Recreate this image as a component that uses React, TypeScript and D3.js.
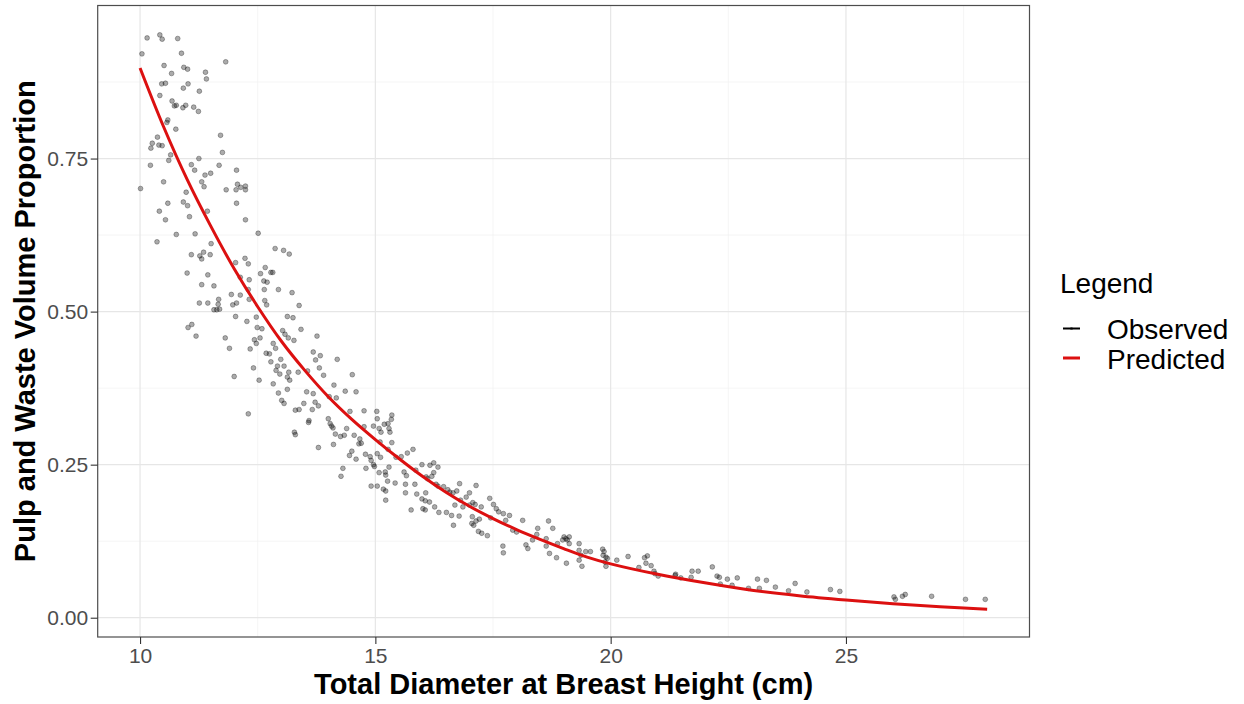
import React, { useEffect, useRef } from 'react';
import * as d3 from 'd3';

// Axis ticks (major + minor grid)
const xTicks = [10, 15, 20, 25];
const xMinorTicks = [12.5, 17.5, 22.5, 27.5];
const yTicks = [0, 0.25, 0.5, 0.75];
const yMinorTicks = [0.125, 0.375, 0.625, 0.875];

// Predicted curve
const predictedDbh = [10, 10.5, 11, 11.5, 12, 12.5, 13, 13.5, 14, 14.5, 15, 15.5, 16, 16.5, 17, 17.5, 18, 18.5, 19, 19.5, 20, 21, 22, 23, 24, 25, 26, 27, 28];
const predictedProp = [0.898, 0.802, 0.716, 0.64, 0.57, 0.508, 0.452, 0.404, 0.361, 0.324, 0.291, 0.26, 0.231, 0.205, 0.182, 0.162, 0.144, 0.128, 0.113, 0.099, 0.088, 0.071, 0.057, 0.045, 0.036, 0.029, 0.023, 0.018, 0.014];

// Observed points [dbh, proportion]
const observed: [number, number][] = [
  [10.15, 0.947], [10.42, 0.952], [10.47, 0.945], [10.8, 0.946], [10.04, 0.921], [10.88, 0.922], [11.82, 0.908], [10.51, 0.902],
  [10.93, 0.899], [11.01, 0.896], [10.67, 0.889], [11.39, 0.891], [11.41, 0.88], [10.46, 0.872], [10.54, 0.873], [11.02, 0.872],
  [10.92, 0.865], [11.26, 0.86], [10.42, 0.853], [10.68, 0.844], [10.73, 0.836], [10.77, 0.837], [10.91, 0.833], [10.97, 0.837],
  [11.14, 0.834], [11.24, 0.827], [10.59, 0.813], [10.57, 0.809], [10.76, 0.798], [11.71, 0.788], [10.37, 0.785], [10.26, 0.775],
  [10.4, 0.772], [10.47, 0.771], [10.23, 0.767], [11.75, 0.76], [10.65, 0.756], [10.61, 0.747], [11.25, 0.75], [10.22, 0.739],
  [11.09, 0.74], [11.16, 0.731], [11.68, 0.739], [12.05, 0.731], [11.38, 0.723], [11.5, 0.726], [10.01, 0.701], [10.5, 0.712],
  [11.31, 0.712], [11.36, 0.704], [12.07, 0.708], [12.24, 0.705], [12.14, 0.703], [12.04, 0.699], [12.24, 0.699], [11.83, 0.699],
  [10.98, 0.695], [10.59, 0.677], [10.92, 0.679], [11.01, 0.673], [12.05, 0.677], [10.41, 0.664], [11.43, 0.664], [11.05, 0.655],
  [10.54, 0.65], [12.24, 0.65],
  [10.77, 0.626], [11.17, 0.627], [12.51, 0.628], [10.36, 0.614], [11.51, 0.611], [12.87, 0.603], [13.05, 0.6], [13.17, 0.594],
  [11.09, 0.593], [11.27, 0.591], [11.35, 0.597], [11.31, 0.586], [11.49, 0.593], [12.03, 0.58], [12.23, 0.587], [12.3, 0.578],
  [12.66, 0.572], [12.56, 0.562], [12.78, 0.564], [12.82, 0.564], [11.0, 0.563], [11.44, 0.56], [12.13, 0.556], [12.32, 0.552],
  [12.63, 0.55], [12.7, 0.548], [11.31, 0.544], [11.57, 0.542], [12.3, 0.536], [12.64, 0.536], [12.94, 0.536], [13.23, 0.531],
  [11.94, 0.528], [12.13, 0.527], [11.26, 0.514], [11.44, 0.514], [11.67, 0.52], [11.66, 0.512], [12.32, 0.52], [12.65, 0.518],
  [12.69, 0.511], [12.05, 0.514], [11.97, 0.511], [11.57, 0.503], [11.63, 0.503], [11.69, 0.504], [13.38, 0.51], [12.03, 0.492],
  [12.27, 0.484], [12.47, 0.491], [13.13, 0.492], [13.25, 0.49], [12.49, 0.474], [12.59, 0.472], [11.02, 0.474], [11.1, 0.479],
  [11.19, 0.46], [11.81, 0.457], [11.9, 0.44], [12.43, 0.454], [12.55, 0.457], [12.47, 0.448], [13.03, 0.469], [13.08, 0.463],
  [13.15, 0.457], [13.27, 0.453], [13.42, 0.471], [12.34, 0.439], [12.83, 0.448], [12.88, 0.44], [12.68, 0.432], [12.75, 0.431],
  [12.99, 0.422], [12.78, 0.418], [12.41, 0.408], [12.0, 0.394], [12.53, 0.388], [12.92, 0.411], [13.06, 0.411], [12.89, 0.404],
  [12.97, 0.398], [13.16, 0.401], [13.13, 0.393], [13.18, 0.388], [13.36, 0.401], [13.56, 0.403], [12.83, 0.382], [12.94, 0.367],
  [13.13, 0.373], [13.01, 0.355], [13.06, 0.35], [13.48, 0.35], [13.3, 0.339], [13.38, 0.34], [13.54, 0.369], [13.68, 0.366],
  [13.66, 0.34], [12.3, 0.333], [13.59, 0.322], [13.68, 0.434], [13.73, 0.421], [13.76, 0.46],
  [13.83, 0.428], [14.19, 0.422], [13.81, 0.408], [14.51, 0.397], [13.9, 0.396],
  [13.72, 0.352], [13.79, 0.346], [14.12, 0.38], [14.17, 0.359], [14.36, 0.37], [14.59, 0.369], [14.02, 0.361], [13.58, 0.319],
  [13.79, 0.278], [14.0, 0.325], [14.04, 0.317], [14.07, 0.313], [14.1, 0.31], [14.46, 0.337], [14.76, 0.338], [15.03, 0.337],
  [15.04, 0.325], [15.35, 0.331], [15.34, 0.324], [15.27, 0.317], [15.19, 0.316], [15.29, 0.309], [15.31, 0.303], [14.15, 0.3],
  [14.26, 0.296], [14.34, 0.298], [14.39, 0.309], [14.55, 0.298], [14.67, 0.292], [14.7, 0.285], [14.65, 0.284], [14.76, 0.312],
  [14.96, 0.313], [15.08, 0.309], [15.12, 0.303], [15.35, 0.286], [15.1, 0.287], [14.11, 0.283], [14.5, 0.272], [14.45, 0.265],
  [14.59, 0.259], [14.79, 0.267], [14.89, 0.263], [14.91, 0.257], [14.96, 0.25], [15.04, 0.268], [15.11, 0.262], [15.27, 0.275],
  [15.44, 0.262], [15.55, 0.263], [15.68, 0.269], [15.8, 0.275], [15.29, 0.246], [15.08, 0.237], [14.31, 0.244], [14.27, 0.231],
  [14.8, 0.244], [14.98, 0.247], [15.21, 0.238], [15.22, 0.233], [15.26, 0.223], [15.42, 0.22], [14.91, 0.215], [15.04, 0.215],
  [15.17, 0.21], [15.22, 0.207], [15.22, 0.192], [15.61, 0.238], [15.66, 0.232], [15.86, 0.241], [15.99, 0.25], [16.16, 0.249],
  [16.24, 0.253], [16.33, 0.246], [16.24, 0.237], [16.2, 0.231], [16.08, 0.23], [16.11, 0.227], [15.64, 0.218], [15.84, 0.218],
  [15.64, 0.204], [15.88, 0.202], [16.07, 0.204], [15.99, 0.194], [16.06, 0.191], [16.15, 0.189], [15.76, 0.176], [16.01, 0.178],
  [16.06, 0.176], [16.26, 0.181], [16.35, 0.172], [16.51, 0.172], [16.29, 0.218], [16.33, 0.215], [16.45, 0.214], [16.54, 0.209],
  [16.58, 0.205], [16.65, 0.204], [16.79, 0.219], [16.73, 0.207], [16.93, 0.197], [17.0, 0.204], [17.14, 0.216], [16.81, 0.192],
  [16.69, 0.184], [16.86, 0.181], [17.0, 0.184], [17.07, 0.188], [17.12, 0.185], [17.25, 0.181], [17.43, 0.195], [17.51, 0.185],
  [17.57, 0.178], [17.62, 0.173], [17.72, 0.17], [17.85, 0.167], [16.62, 0.167], [16.78, 0.166], [17.06, 0.165], [17.21, 0.161],
  [17.45, 0.163],
  [16.66, 0.151], [17.05, 0.154], [17.09, 0.151], [17.14, 0.158], [17.19, 0.141], [17.26, 0.138], [17.38, 0.134], [13.28, 0.303],
  [13.3, 0.299],
  [18.13, 0.159], [18.45, 0.146], [18.68, 0.158], [18.77, 0.146], [18.43, 0.136], [18.34, 0.127], [18.2, 0.119], [18.24, 0.113],
  [18.63, 0.129], [18.87, 0.121], [18.98, 0.127], [19.01, 0.132], [19.05, 0.129], [19.12, 0.132], [19.08, 0.127], [19.12, 0.121],
  [18.7, 0.105], [18.85, 0.098], [19.06, 0.089], [19.33, 0.121], [19.33, 0.11], [19.37, 0.102], [19.33, 0.094], [19.39, 0.084],
  [19.47, 0.108], [17.71, 0.117], [17.72, 0.106], [17.77, 0.159], [17.92, 0.143], [18.0, 0.14],
  [19.83, 0.112], [19.86, 0.108], [19.84, 0.102], [19.9, 0.099], [19.93, 0.097], [19.88, 0.091], [19.9, 0.084], [20.13, 0.094],
  [20.37, 0.1], [19.57, 0.108], [20.6, 0.082], [20.72, 0.098], [20.78, 0.101], [20.75, 0.089], [20.86, 0.085], [20.92, 0.076],
  [20.94, 0.072], [21.01, 0.068], [21.38, 0.071], [21.37, 0.069], [21.49, 0.065], [21.71, 0.066], [21.73, 0.076], [21.86, 0.076],
  [18.63, 0.117],
  [22.16, 0.083], [22.26, 0.068], [22.31, 0.066], [22.33, 0.055], [22.48, 0.063], [22.58, 0.053], [22.69, 0.065], [22.93, 0.048],
  [23.12, 0.063], [23.16, 0.048], [23.31, 0.061], [23.5, 0.05], [23.78, 0.044], [23.92, 0.056], [24.17, 0.042], [24.67, 0.046],
  [24.87, 0.043], [26.02, 0.034], [26.05, 0.03], [26.2, 0.035], [26.26, 0.038], [26.82, 0.035], [27.54, 0.03], [27.96, 0.03],
];

const legendTitle = 'Legend';
const legendLabels = ['Observed', 'Predicted'];
const legendColors = ['#000000', '#dc1010'];

const FONT = '"Liberation Sans", Arial, Helvetica, sans-serif';

export default function App() {
  const svgRef = useRef<SVGSVGElement>(null);

  useEffect(() => {
    if (!svgRef.current) return;
    const svg = d3.select(svgRef.current);
    svg.selectAll('*').remove();

    const width = 1244;
    const height = 704;
    const margin = { top: 5.5, right: 214.5, bottom: 67, left: 97.7 };

    const x = d3.scaleLinear().domain([9.1, 28.9]).range([margin.left, width - margin.right]);
    const y = d3.scaleLinear().domain([-0.0315, 1.0]).range([height - margin.bottom, margin.top]);

    svg.append('rect').attr('width', width).attr('height', height).attr('fill', '#fff');

    // grid
    const grid = svg.append('g');
    grid.selectAll('.xminor').data(xMinorTicks).enter().append('line')
      .attr('x1', d => x(d)).attr('x2', d => x(d))
      .attr('y1', margin.top).attr('y2', height - margin.bottom)
      .attr('stroke', '#f0f0f0').attr('stroke-width', 0.7);
    grid.selectAll('.yminor').data(yMinorTicks).enter().append('line')
      .attr('x1', margin.left).attr('x2', width - margin.right)
      .attr('y1', d => y(d)).attr('y2', d => y(d))
      .attr('stroke', '#f0f0f0').attr('stroke-width', 0.7);
    grid.selectAll('.xmajor').data(xTicks).enter().append('line')
      .attr('x1', d => x(d)).attr('x2', d => x(d))
      .attr('y1', margin.top).attr('y2', height - margin.bottom)
      .attr('stroke', '#e6e6e6').attr('stroke-width', 1.2);
    grid.selectAll('.ymajor').data(yTicks).enter().append('line')
      .attr('x1', margin.left).attr('x2', width - margin.right)
      .attr('y1', d => y(d)).attr('y2', d => y(d))
      .attr('stroke', '#e6e6e6').attr('stroke-width', 1.2);

    // observed points
    svg.append('g').selectAll('circle').data(observed).enter().append('circle')
      .attr('cx', d => x(d[0]))
      .attr('cy', d => y(d[1]))
      .attr('r', 2.4)
      .attr('fill', '#000').attr('fill-opacity', 0.33)
      .attr('stroke', '#000').attr('stroke-opacity', 0.38).attr('stroke-width', 0.8);

    // predicted line
    const line = d3.line<number>()
      .x((_, i) => x(predictedDbh[i]))
      .y(d => y(d))
      .curve(d3.curveCatmullRom.alpha(0.5));
    svg.append('path')
      .datum(predictedProp)
      .attr('fill', 'none')
      .attr('stroke', legendColors[1])
      .attr('stroke-width', 3)
      .attr('stroke-linejoin', 'round')
      .attr('d', line);

    // panel border
    svg.append('rect')
      .attr('x', margin.left).attr('y', margin.top)
      .attr('width', width - margin.left - margin.right)
      .attr('height', height - margin.top - margin.bottom)
      .attr('fill', 'none').attr('stroke', '#4d4d4d').attr('stroke-width', 1.2);

    // axes
    const xAxis = svg.append('g')
      .attr('transform', `translate(0,${height - margin.bottom})`)
      .call(d3.axisBottom(x).tickValues(xTicks).tickFormat(d3.format('d')).tickSize(7).tickPadding(4));
    const yAxis = svg.append('g')
      .attr('transform', `translate(${margin.left},0)`)
      .call(d3.axisLeft(y).tickValues(yTicks).tickFormat(d3.format('.2f')).tickSize(7).tickPadding(2.5));
    [xAxis, yAxis].forEach(a => {
      a.select('.domain').remove();
      a.selectAll('line').attr('stroke', '#333').attr('stroke-width', 1.1);
      a.selectAll('text')
        .attr('fill', '#4d4d4d')
        .style('font-family', FONT)
        .style('font-size', '21px');
    });

    // axis titles
    svg.append('text')
      .attr('x', (margin.left + width - margin.right) / 2)
      .attr('y', 694)
      .attr('text-anchor', 'middle')
      .style('font-family', FONT).style('font-size', '29px').style('font-weight', 'bold')
      .attr('fill', '#000')
      .text('Total Diameter at Breast Height (cm)');
    svg.append('text')
      .attr('transform', `translate(34.5,${(margin.top + height - margin.bottom) / 2}) rotate(-90)`)
      .attr('text-anchor', 'middle')
      .style('font-family', FONT).style('font-size', '29px').style('font-weight', 'bold')
      .attr('fill', '#000')
      .text('Pulp and Waste Volume Proportion');

    // legend
    const lg = svg.append('g').attr('transform', 'translate(1060,0)');
    lg.append('text')
      .attr('x', 0).attr('y', 293)
      .style('font-family', FONT).style('font-size', '28px')
      .attr('fill', '#000')
      .text(legendTitle);
    const items = lg.selectAll('.item').data(legendLabels).enter().append('g')
      .attr('transform', (_, i) => `translate(0,${328.5 + i * 29.5})`);
    items.append('line')
      .attr('x1', 3).attr('x2', 20).attr('y1', 0).attr('y2', 0)
      .attr('stroke', (_, i) => legendColors[i])
      .attr('stroke-width', (_, i) => (i === 0 ? 2 : 3));
    items.filter((_, i) => i === 0).append('circle')
      .attr('cx', 11.5).attr('cy', 0).attr('r', 1.6)
      .attr('fill', '#000').attr('fill-opacity', 0.5);
    items.append('text')
      .attr('x', 47).attr('y', 10.5)
      .style('font-family', FONT).style('font-size', '28px')
      .attr('fill', '#000')
      .text(d => d);
  }, []);

  return (
    <svg
      ref={svgRef}
      width={1244}
      height={704}
      viewBox="0 0 1244 704"
      style={{ position: 'absolute', left: 0, top: 0, display: 'block' }}
    />
  );
}
